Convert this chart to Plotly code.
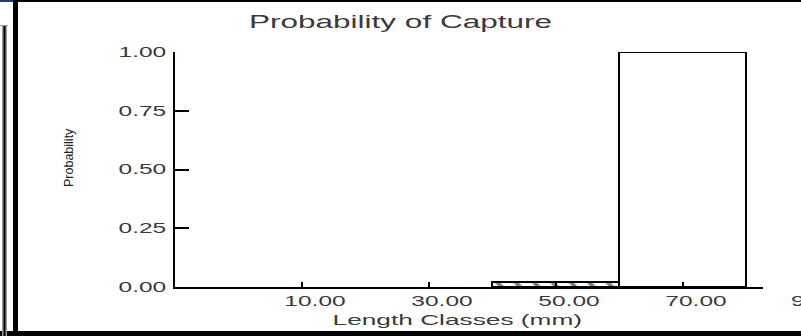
import plotly.graph_objects as go

# Length classes (mm, class midpoints) and capture probabilities
length_classes = [10, 30, 50, 70]
probabilities = [0.0, 0.0, 0.02, 1.0]
class_width = 20
bar_patterns = ["", "", "\\", ""]

x_ticks = [10, 30, 50, 70, 90]
y_ticks = [0.0, 0.25, 0.5, 0.75, 1.0]

chart_title = "Probability of Capture"
x_title = "Length Classes (mm)"
y_title = "Probability"

W, H = 801, 336
M = dict(l=175, r=38, t=52, b=49)
X_RANGE = [-10, 82.6]
Y_RANGE = [0, 1]

FONT = "Liberation Sans, Arial, sans-serif"
TEXT = "#3a3a3a"
STRETCH = 1.75  # horizontal widening of the printed labels


def px_x(p):
    return (p - M["l"]) / (W - M["l"] - M["r"])


def px_y(p):
    return (H - M["b"] - p) / (H - M["t"] - M["b"])


fig = go.Figure()
fig.add_trace(go.Bar(
    x=length_classes,
    y=probabilities,
    width=class_width,
    marker=dict(
        color="white",
        # empty classes get no outline so nothing sits on the axis line
        line=dict(color="black", width=[2 if p > 0 else 0 for p in probabilities]),
        pattern=dict(shape=bar_patterns, fgcolor="black", bgcolor="white",
                     size=13, solidity=0.3),
    ),
    cliponaxis=False,
    hoverinfo="x+y",
))

in_range = [t for t in x_ticks if X_RANGE[0] <= t <= X_RANGE[1]]
beyond = [t for t in x_ticks if t > X_RANGE[1]]

fig.update_layout(
    width=W, height=H,
    margin=M,
    paper_bgcolor="white",
    plot_bgcolor="white",
    showlegend=False,
    bargap=0,
    font=dict(family=FONT, color=TEXT),
    title=dict(text=chart_title, x=0.5, xanchor="center",
               y=1 - 22 / H, yanchor="middle",
               font=dict(size=18, color=TEXT, family=FONT)),
    xaxis=dict(
        range=X_RANGE,
        tickvals=in_range,
        tickformat=".2f",
        ticks="inside", ticklen=5, tickwidth=1.5, tickcolor="black",
        ticklabelshift=13,
        showline=True, linecolor="black", linewidth=2,
        showgrid=False, zeroline=False,
        tickfont=dict(size=14, color=TEXT),
    ),
    yaxis=dict(
        range=Y_RANGE,
        tickvals=y_ticks,
        tickformat=".2f",
        ticks="inside", ticklen=14, tickwidth=1.5, tickcolor="black",
        ticklabelstandoff=4,
        showline=True, linecolor="black", linewidth=2,
        showgrid=False, zeroline=False,
        tickfont=dict(size=14, color=TEXT),
    ),
)

# Axis titles
fig.add_annotation(x=px_x(457), y=px_y(319), xref="paper", yref="paper",
                   text=x_title, showarrow=False, xanchor="center", yanchor="middle",
                   font=dict(size=15, color=TEXT, family=FONT))
fig.add_annotation(x=px_x(69), y=px_y(158), xref="paper", yref="paper",
                   text=y_title, showarrow=False, textangle=-90,
                   xanchor="center", yanchor="middle",
                   font=dict(size=12.5, color="#222222", family=FONT),
                   name="ytitle")

# Tick labels of classes that fall past the end of the axis line
span = X_RANGE[1] - X_RANGE[0]
for t in beyond:
    fig.add_annotation(
        x=(t - X_RANGE[0]) / span, xref="paper",
        y=0, yref="paper", yanchor="top", yshift=-4,
        xshift=31, showarrow=False,
        text=f"{t:.2f}", font=dict(size=14, color=TEXT, family=FONT),
    )

# Window frame around the chart
frame = [
    (13, 0, W, 2, "black"),
    (0, 0, 13, 2, "#1f3f75"),
    (13, 0, 18, H, "black"),
    (0, 331, W, H, "black"),
    (2, 25, 7, H, "#9a9a9a"),
    (3.5, 26, 5.5, H, "black"),
    (0, 25, 8, 26, "#9a9a9a"),
]
for x0, y0, x1, y1, c in frame:
    fig.add_shape(type="rect", xref="paper", yref="paper",
                  x0=px_x(x0), x1=px_x(x1), y0=px_y(y1), y1=px_y(y0),
                  fillcolor=c, line=dict(width=0), layer="above")

post = """
var gd = document.getElementById('{plot_id}');
var sel = 'text.gtitle, .xtick text, .ytick text, text.annotation-text';
gd.querySelectorAll(sel).forEach(function(t){
  var tr = t.closest('g.annotation');
  if (tr && tr.querySelector('text') === t && t.textContent === '%s') return;
  var w = t.getComputedTextLength();
  t.setAttribute('textLength', (w * %s).toFixed(1));
  t.setAttribute('lengthAdjust', 'spacingAndGlyphs');
});
""" % (y_title, STRETCH)

fig.write_html("out.html", post_script=post)
